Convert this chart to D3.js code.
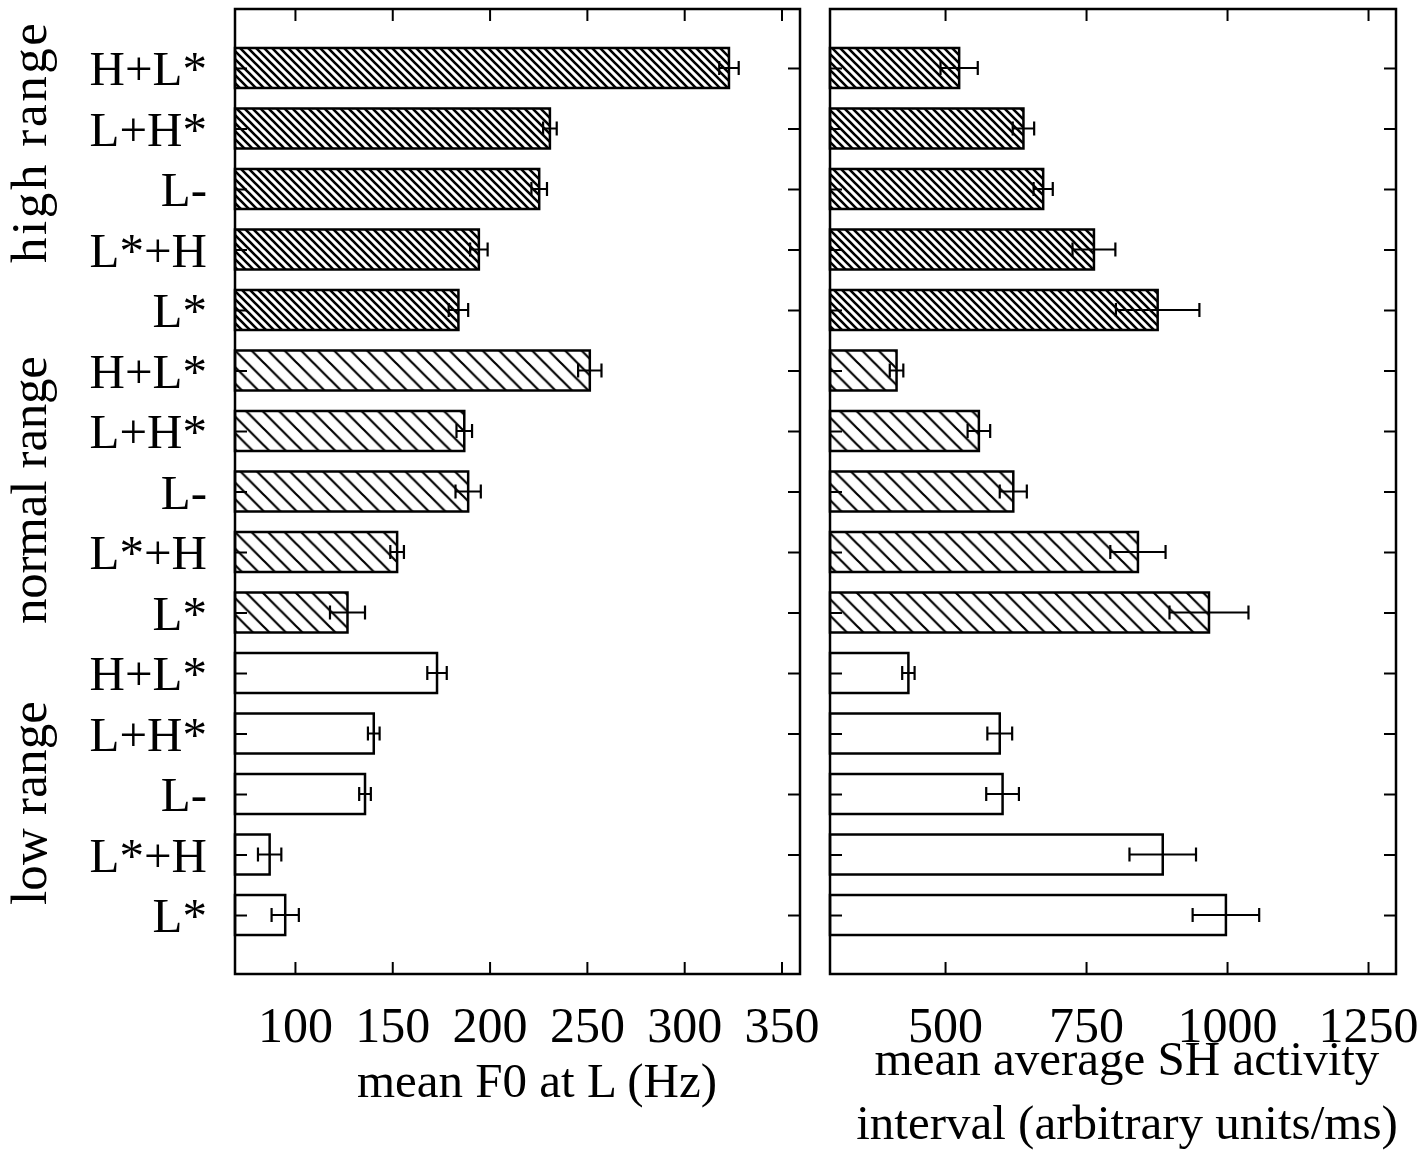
<!DOCTYPE html>
<html><head><meta charset="utf-8">
<script src="https://cdn.jsdelivr.net/npm/d3@7"></script>
<style>body{margin:0;background:#fff}</style>
</head><body>
<svg id="c" width="1427" height="1165"></svg>
<script>
const categories = ["H+L*","L+H*","L-","L*+H","L*","H+L*","L+H*","L-","L*+H","L*","H+L*","L+H*","L-","L*+H","L*"];
const groups = ["high","high","high","high","high","normal","normal","normal","normal","normal","low","low","low","low","low"];
const groupLabels = ["high range","normal range","low range"];
const f0Values = [323,231,225.5,194.5,184,251.5,187,189,152.5,127,173,140.5,136,87,95];
const f0Errors = [5,3.5,4,4.5,5,6,4,6.5,3.5,9,5,3,3,6,7];
const shValues = [525,639,674,764,877,414,560,621,842,968,435,597,602,886,998];
const shErrors = [33,19,17,38,74,12,20,24,49,70,11,22,29,59,59];
const f0Ticks = [100,150,200,250,300,350];
const shTicks = [500,750,1000,1250];
const f0Title = ["mean F0 at L (Hz)"];
const shTitle = ["mean average SH activity","interval (arbitrary units/ms)"];

const svg = d3.select("#c");
const FONT = "'Liberation Serif','Times New Roman',serif";
const plotTop = 9, plotBottom = 974;
const y = d3.scalePoint().domain(d3.range(categories.length)).range([plotTop, plotBottom]).padding(0.975);
const barH = 40;

const defs = svg.append("defs");
function hatch(id, s, w){
  const p = defs.append("pattern").attr("id", id).attr("patternUnits","userSpaceOnUse")
    .attr("width", s).attr("height", s);
  p.append("rect").attr("width", s).attr("height", s).attr("fill","#fff");
  p.append("path").attr("d", `M-2,-2 L${s+2},${s+2} M${s-2},-2 L${s+2},2 M-2,${s-2} L2,${s+2}`)
    .attr("stroke","#000").attr("stroke-width", w);
}
hatch("dense", 8, 2.6);
hatch("sparse", 16.5, 2.2);
const fillFor = g => g==="high" ? "url(#dense)" : g==="normal" ? "url(#sparse)" : "#fff";

function panel(x0, x1, domain, values, errors, ticks){
  const x = d3.scaleLinear().domain(domain).range([x0, x1]);
  const g = svg.append("g");
  g.selectAll("rect.bar").data(values).join("rect").attr("class","bar")
    .attr("x", x(domain[0])).attr("y", (d,i)=>y(i)-barH/2)
    .attr("width", d=>x(d)-x(domain[0])).attr("height", barH)
    .attr("fill", (d,i)=>fillFor(groups[i])).attr("stroke","#000").attr("stroke-width",2.5);
  const eb = g.selectAll("g.eb").data(values).join("g").attr("class","eb");
  eb.append("line").attr("x1",(d,i)=>x(d-errors[i])).attr("x2",(d,i)=>x(d+errors[i]))
    .attr("y1",(d,i)=>y(i)).attr("y2",(d,i)=>y(i)).attr("stroke","#000").attr("stroke-width",2);
  [-1,1].forEach(s=>{
    eb.append("line").attr("x1",(d,i)=>x(d+s*errors[i])).attr("x2",(d,i)=>x(d+s*errors[i]))
      .attr("y1",(d,i)=>y(i)-7).attr("y2",(d,i)=>y(i)+7).attr("stroke","#000").attr("stroke-width",2.2);
  });
  g.append("rect").attr("x",x0).attr("y",plotTop).attr("width",x1-x0).attr("height",plotBottom-plotTop)
    .attr("fill","none").attr("stroke","#000").attr("stroke-width",2.5);
  const axB = d3.axisBottom(x).tickValues(ticks).tickSize(-12).tickPadding(32).tickFormat(d3.format("d"));
  const gb = g.append("g").attr("transform",`translate(0,${plotBottom})`).call(axB);
  gb.select(".domain").remove();
  gb.selectAll("line").attr("stroke","#000").attr("stroke-width",2);
  gb.selectAll("text").attr("font-family",FONT).attr("font-size",50).attr("fill","#000").attr("dy","0.71em");
  const axT = d3.axisTop(x).tickValues(ticks).tickSize(-12).tickFormat("");
  const gt = g.append("g").attr("transform",`translate(0,${plotTop})`).call(axT);
  gt.select(".domain").remove();
  gt.selectAll("line").attr("stroke","#000").attr("stroke-width",2);
  const axR = d3.axisRight(y).tickSize(-12).tickFormat("");
  const gr = g.append("g").attr("transform",`translate(${x1},0)`).call(axR);
  gr.select(".domain").remove();
  gr.selectAll("line").attr("stroke","#000").attr("stroke-width",2);
  const axL = d3.axisLeft(y).tickSize(-12).tickFormat("");
  const gl = g.append("g").attr("transform",`translate(${x0},0)`).call(axL);
  gl.select(".domain").remove();
  gl.selectAll("line").attr("stroke","#000").attr("stroke-width",2);
  return x;
}

panel(235, 800, [69.2, 359.5], f0Values, f0Errors, f0Ticks);
panel(830, 1396, [296, 1299.6], shValues, shErrors, shTicks);

svg.append("g").selectAll("text").data(categories).join("text")
  .attr("x", 207).attr("y",(d,i)=>y(i)).attr("dy","0.35em")
  .attr("text-anchor","end").attr("font-family",FONT).attr("font-size",49).attr("fill","#000")
  .text(d=>d);

const groupCenters = [143, 490, 803];
const groupSpans = [240, 268, 204];
svg.append("g").selectAll("text").data(groupLabels).join("text")
  .attr("transform",(d,i)=>`translate(46,${groupCenters[i]}) rotate(-90)`)
  .attr("text-anchor","middle").attr("font-family",FONT).attr("font-size",51).attr("fill","#000")
  .attr("textLength",(d,i)=>groupSpans[i]).attr("lengthAdjust","spacing")
  .text(d=>d);

svg.append("text").attr("x",537).attr("y",1097).attr("text-anchor","middle")
  .attr("font-family",FONT).attr("font-size",49).attr("fill","#000").text(f0Title[0]);
svg.append("g").selectAll("text").data(shTitle).join("text")
  .attr("x",1127).attr("y",(d,i)=>1075+i*64).attr("text-anchor","middle")
  .attr("font-family",FONT).attr("font-size",49).attr("fill","#000").text(d=>d);
</script>
</body></html>
